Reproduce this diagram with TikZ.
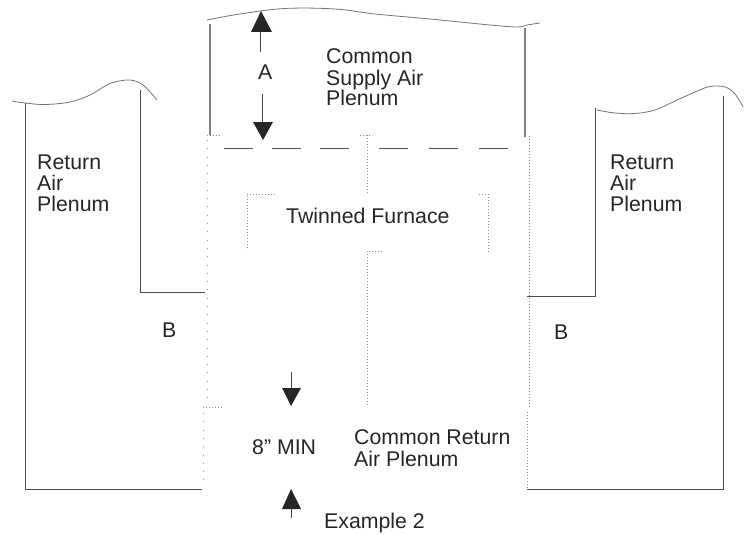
\documentclass[tikz,border=0pt]{standalone}
\usepackage{fontspec}
\setmainfont{Liberation Sans}
\tikzset{
  wall/.style={draw=black!50,line width=1.1pt},
  thinwall/.style={draw=black!70,line width=0.8pt},
  wavy/.style={draw=black!55,line width=0.8pt,smooth,tension=0.6},
  dots/.style={draw=black!45,line width=0.6pt,dash pattern=on 0.8pt off 2.2pt},
  sparse/.style={draw=black!45,line width=0.6pt,dash pattern=on 1pt off 7.3pt},
  dashline/.style={draw=black!70,line width=0.8pt},
  stem/.style={draw=black!75,line width=0.8pt},
  head/.style={fill=black!85,draw=none},
  lbl/.style={anchor=base west,inner sep=0pt,font=\fontsize{21.3}{21}\selectfont,text=black!85},
}
\begin{document}
\begin{tikzpicture}[x=1pt,y=-1pt]
\useasboundingbox (0,0) rectangle (745,535);
% named points
\coordinate (lw1) at (25,103); \coordinate (lw2) at (25,489); \coordinate (lw3) at (202,489);
\coordinate (li1) at (140,90); \coordinate (li2) at (140,292); \coordinate (li3) at (205,292);
\coordinate (rw1) at (723,96); \coordinate (rw2) at (723,489); \coordinate (rw3) at (527,489);
\coordinate (ri1) at (595,108); \coordinate (ri2) at (595,296); \coordinate (ri3) at (527,296);
\coordinate (tl1) at (210,24); \coordinate (tl2) at (210,135);
\coordinate (tr1) at (525,28); \coordinate (tr2) at (525,137);
% walls
\draw[thinwall] (lw1) -- (lw2) -- (lw3);
\draw[thinwall] (li1) -- (li2) -- (li3);
\draw[thinwall] (rw3) -- (rw2) -- (rw1);
\draw[thinwall] (ri1) -- (ri2) -- (ri3);
\draw[wall] (tl1) -- (tl2);
\draw[wall] (tr1) -- (tr2);
% wavy breaks
\draw[wavy] plot coordinates {(12,101) (25,103) (45,104.5) (70,102) (90,95) (105,86) (115,82) (130,80) (143,85) (157,100)};
\draw[wavy] plot coordinates {(207,20) (240,14) (285,8.5) (335,9) (375,14) (430,19) (490,25) (517,27) (527,25) (540,23)};
\draw[wavy] plot coordinates {(597,110) (615,113) (635,113.5) (655,110) (675,101) (695,92) (710,86.5) (725,87) (735,94) (743,107)};
% dashed line
\foreach \a/\b in {224/253,272/301,320/349,379/408,429/458,479/508}
  \draw[dashline] (\a,148) -- (\b,148);
% dotted furnace outlines
\draw[dots] (207,135) -- (222,135);
\draw[sparse] (207,140) -- (207,405);
\draw[dots] (367,135) -- (367,194);
\draw[dots] (360,135) -- (372,135);
\draw[dots] (275,194) -- (247,194) -- (247,250);
\draw[dots] (479,194) -- (488,194) -- (488,252);
\draw[dots] (382,251) -- (367,251) -- (367,407);
\draw[dots] (203,407) -- (222,407);
\draw[sparse] (203,413) -- (203,482);
\draw[dots] (529,136) -- (529,407);
\draw[dots] (527,412) -- (527,488);
% dimension arrows
\coordinate (a1) at (260,52); \coordinate (a2) at (260,32);
\coordinate (a3) at (262,94); \coordinate (a4) at (262,122);
\coordinate (m1) at (291,372); \coordinate (m2) at (291,388);
\coordinate (n1) at (291,518); \coordinate (n2) at (291,509);
\draw[stem] (a1) -- (a2);
\draw[stem] (a3) -- (a4);
\draw[stem] (m1) -- (m2);
\draw[stem] (n1) -- (n2);
\fill[head] (261,11) -- (272,32) -- (251,32) -- cycle;
\fill[head] (263,140) -- (273,122) -- (253,122) -- cycle;
\fill[head] (291,406) -- (301,388) -- (282,388) -- cycle;
\fill[head] (291,489) -- (301,509) -- (282,509) -- cycle;
% labels
\node[lbl] (A) at (258,80) {A};
\node[lbl] (s1) at (326,64) {Common};
\node[lbl] (s2) at (326,85) {Supply Air};
\node[lbl] (s3) at (326,106) {Plenum};
\node[lbl] (f) at (286,223) {Twinned Furnace};
\node[lbl] (l1) at (37,169) {Return};
\node[lbl] (l2) at (37,190) {Air};
\node[lbl] (l3) at (37,211) {Plenum};
\node[lbl] (r1) at (610,169) {Return};
\node[lbl] (r2) at (610,190) {Air};
\node[lbl] (r3) at (610,211) {Plenum};
\node[lbl] (bl) at (162,337) {B};
\node[lbl] (br) at (554,339) {B};
\node[lbl] (m) at (252,454) {8” MIN};
\node[lbl] (c1) at (354,444) {Common Return};
\node[lbl] (c2) at (354,466) {Air Plenum};
\node[lbl] (e) at (324,528) {Example 2};
\end{tikzpicture}
\end{document}
